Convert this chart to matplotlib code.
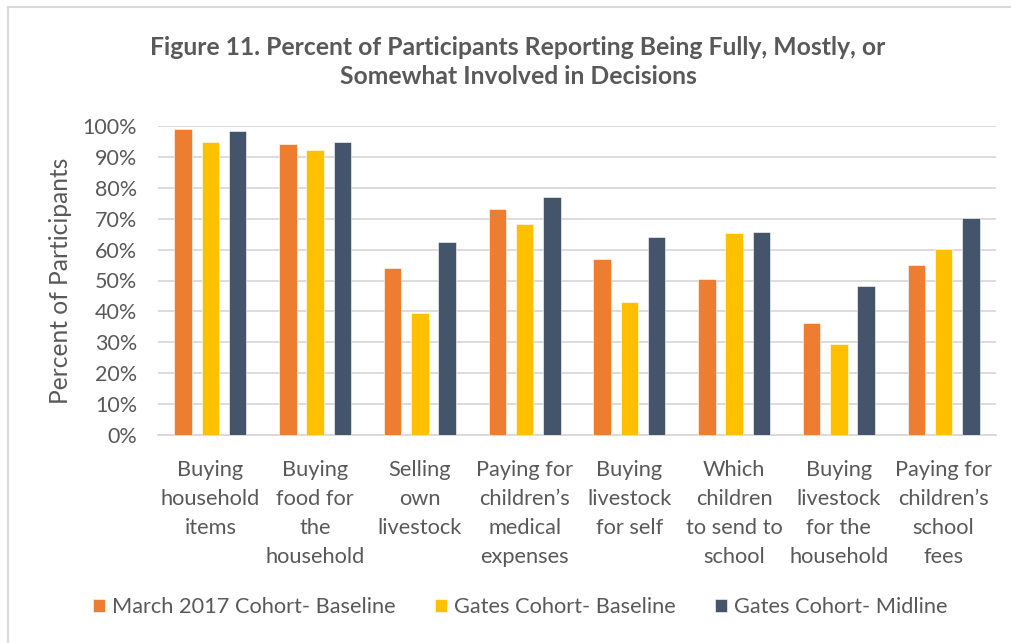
import matplotlib
matplotlib.use("Agg")
import matplotlib.pyplot as plt
import numpy as np
from matplotlib.lines import Line2D

categories = [
    "Buying\nhousehold\nitems",
    "Buying\nfood for\nthe\nhousehold",
    "Selling\nown\nlivestock",
    "Paying for\nchildren\u2019s\nmedical\nexpenses",
    "Buying\nlivestock\nfor self",
    "Which\nchildren\nto send to\nschool",
    "Buying\nlivestock\nfor the\nhousehold",
    "Paying for\nchildren\u2019s\nschool\nfees",
]
march_baseline = [98.8, 94.2, 53.9, 73.1, 56.8, 50.6, 36.2, 54.9]
gates_baseline = [94.6, 92.1, 39.5, 68.1, 43.2, 65.2, 29.6, 60.3]
gates_midline = [98.4, 94.6, 62.3, 76.9, 63.9, 65.6, 48.2, 70.2]
series_names = ["March 2017 Cohort- Baseline", "Gates Cohort- Baseline", "Gates Cohort- Midline"]
yticks = [0, 10, 20, 30, 40, 50, 60, 70, 80, 90, 100]

colors = ["#ED7D31", "#FFC000", "#44546A"]
text_color = "#595959"
font = "Lato"

fig = plt.figure(figsize=(10.12, 6.43), dpi=100)
ax = fig.add_axes([158 / 1012, 1 - 435.3 / 643, (996 - 158) / 1012, (435.3 - 125.7) / 643])

x = np.arange(len(categories))
width = 0.165
offsets = [-0.26, 0.0, 0.26]
for vals, off, c, name in zip([march_baseline, gates_baseline, gates_midline], offsets, colors, series_names):
    ax.bar(x + off, vals, width=width, color=c, label=name, zorder=3,
           edgecolor="white", linewidth=0.4)

ax.set_xlim(-0.5, len(categories) - 0.5)
ax.set_ylim(0, 100)
ax.set_yticks(yticks)
ax.set_yticklabels([f"{t}%" for t in yticks], fontfamily=font, fontsize=15.5, color=text_color)
ax.set_xticks(x)
ax.set_xticklabels(categories, fontfamily=font, fontsize=15.7, color=text_color)
for lbl in ax.get_xticklabels():
    lbl.set_linespacing(1.56)
ax.tick_params(axis="y", length=0, pad=15)
ax.tick_params(axis="x", length=0, pad=18)
ax.grid(axis="y", color="#d9d9d9", linewidth=1.3, zorder=0)
for s in ["top", "right", "left"]:
    ax.spines[s].set_visible(False)
ax.spines["bottom"].set_color("#d9d9d9")
ax.spines["bottom"].set_linewidth(1.3)

ax.set_ylabel("Percent of Participants", fontfamily=font, fontsize=17.7, color=text_color, labelpad=8)

fig.text(518 / 1012, 1 - 62 / 643,
         "Figure 11. Percent of Participants Reporting Being Fully, Mostly, or\nSomewhat Involved in Decisions",
         ha="center", va="center", fontfamily=font, fontweight="bold", fontsize=17.8,
         color=text_color, linespacing=1.35)

leg = fig.legend(loc="center", bbox_to_anchor=(520 / 1012, 1 - 607 / 643), ncol=3, frameon=False,
                 prop={"family": font, "size": 15.7}, handlelength=0.55, handleheight=0.55,
                 handletextpad=0.32, columnspacing=1.8, labelcolor=text_color)

fig.add_artist(Line2D([8 / 1012, 8 / 1012], [0, 1 - 7 / 643], transform=fig.transFigure,
                      color="#d9d9d9", linewidth=1.5))
fig.add_artist(Line2D([8 / 1012, 1], [1 - 7 / 643, 1 - 7 / 643], transform=fig.transFigure,
                      color="#d9d9d9", linewidth=1.5))

fig.savefig("out.png", dpi=100)
